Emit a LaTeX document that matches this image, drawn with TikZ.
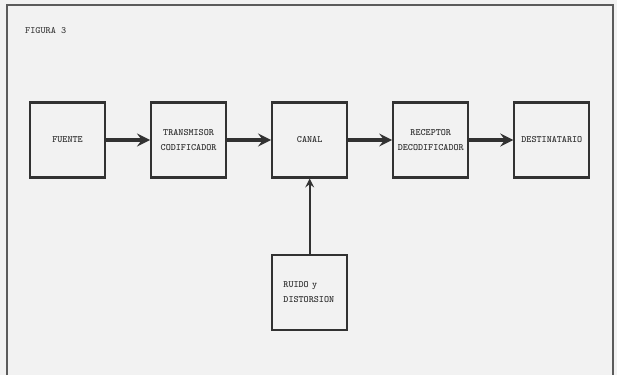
\documentclass[tikz,border=0pt]{standalone}
\usepackage{tikz}
\usetikzlibrary{arrows,shapes,positioning}
\usepackage{xcolor}
\definecolor{figgray}{RGB}{50,50,50}
\definecolor{figpaper}{RGB}{242,242,242}
\tikzstyle{block} = [rectangle, minimum width=1.5cm, minimum height=1.5cm, text width=1.44cm, inner xsep=0.03cm, align=center, draw=figgray, line width=1.2pt, text=figgray, font=\ttfamily\bfseries\fontsize{5.5}{9}\selectfont]
\tikzstyle{arrow} = [line width=2.2pt,->,>=stealth,color=figgray]

\begin{document}
\begin{tikzpicture}[x=0.02cm,y=-0.02cm]
\fill[figpaper] (0,0) rectangle (617,375);
\useasboundingbox (0,0) rectangle (617,375);
\draw[figgray!80, line width=1pt] (7,375) -- (7,5) -- (613,5) -- (613,375);
\node[text=figgray, font=\ttfamily\fontsize{5.5}{9}\selectfont, anchor=west] (fig) at (19,31) {FIGURA 3};

\node[block] (fuente) at (67.5,140) {FUENTE};
\node[block, right=0.88cm of fuente] (trans) {TRANSMISOR\\CODIFICADOR};
\node[block, right=0.88cm of trans] (canal) {CANAL};
\node[block, right=0.88cm of canal] (recep) {RECEPTOR\\DECODIFICADOR};
\node[block, right=0.88cm of recep] (dest) {DESTINATARIO};
\node[block, below=1.5cm of canal, text width=1.05cm, align=left] (ruido) {RUIDO y\\DISTORSION};

\draw[arrow] (fuente) -- (trans);
\draw[arrow] (trans) -- (canal);
\draw[arrow] (canal) -- (recep);
\draw[arrow] (recep) -- (dest);
\draw[arrow, line width=1.2pt] (ruido) -- (canal);
\end{tikzpicture}
\end{document}
